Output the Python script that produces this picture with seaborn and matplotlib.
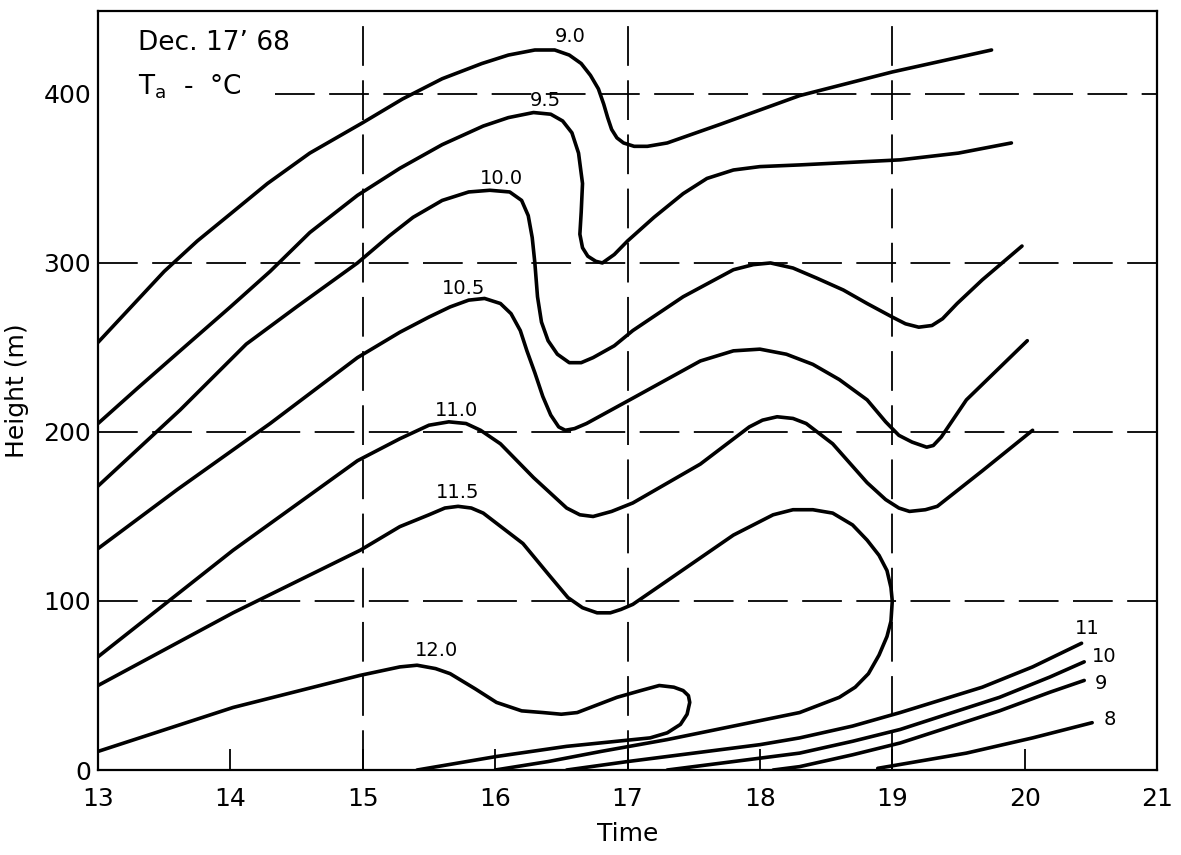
import matplotlib
matplotlib.use("Agg")
import matplotlib.pyplot as plt
import seaborn as sns

# isotherms: time (h) and height (m)
t_90 = [13.0, 13.25, 13.5, 13.75, 14.0, 14.28, 14.6, 15.0, 15.3, 15.6, 15.9, 16.1, 16.3, 16.45, 16.56, 16.65, 16.72, 16.78, 16.82, 16.85, 16.88, 16.92, 16.97, 17.05, 17.15, 17.3, 17.7, 18.3, 19.0, 19.75]
h_90 = [253, 274, 295, 313, 329, 347, 365, 383, 397, 409, 418, 423, 426, 426, 423, 418, 411, 403, 394, 386, 379, 374, 371, 369, 369, 371, 382, 399, 413, 426]

t_95 = [13.0, 13.3, 13.62, 14.0, 14.3, 14.6, 14.96, 15.28, 15.6, 15.91, 16.1, 16.29, 16.42, 16.51, 16.58, 16.63, 16.66, 16.65, 16.64, 16.66, 16.7, 16.76, 16.81, 16.9, 17.0, 17.2, 17.42, 17.6, 17.8, 18.0, 18.3, 19.06, 19.5, 19.9]
h_95 = [205, 226, 248, 274, 295, 318, 340, 356, 370, 381, 386, 389, 388, 384, 377, 365, 347, 330, 317, 309, 304, 301, 300, 305, 313, 327, 341, 350, 355, 357, 358, 361, 365, 371]

t_100 = [13.0, 13.62, 14.12, 14.5, 14.96, 15.2, 15.38, 15.6, 15.8, 15.96, 16.11, 16.2, 16.25, 16.28, 16.3, 16.32, 16.35, 16.4, 16.47, 16.56, 16.65, 16.74, 16.9, 17.04, 17.42, 17.8, 17.95, 18.08, 18.25, 18.43, 18.63, 18.81, 19.0, 19.1, 19.2, 19.3, 19.38, 19.49, 19.68, 19.98]
h_100 = [168, 213, 252, 274, 300, 316, 327, 337, 342, 343, 342, 337, 328, 315, 300, 280, 265, 254, 246, 241, 241, 244, 251, 260, 280, 296, 299, 300, 297, 291, 284, 276, 268, 264, 262, 263, 267, 276, 290, 310]

t_105 = [13.0, 13.6, 14.3, 14.96, 15.28, 15.5, 15.66, 15.8, 15.92, 16.04, 16.12, 16.19, 16.24, 16.3, 16.36, 16.42, 16.48, 16.53, 16.6, 16.69, 17.04, 17.55, 17.8, 18.0, 18.2, 18.4, 18.6, 18.81, 18.95, 19.05, 19.15, 19.26, 19.31, 19.37, 19.56, 20.02]
h_105 = [131, 166, 205, 244, 259, 268, 274, 278, 279, 276, 270, 260, 248, 235, 221, 210, 203, 201, 202, 205, 220, 242, 248, 249, 246, 240, 231, 219, 206, 198, 194, 191, 192, 197, 219, 254]

t_110 = [13.0, 14.02, 14.96, 15.28, 15.5, 15.65, 15.78, 15.89, 16.04, 16.29, 16.54, 16.64, 16.74, 16.88, 17.04, 17.55, 17.92, 18.02, 18.13, 18.25, 18.35, 18.55, 18.81, 18.95, 19.05, 19.13, 19.25, 19.34, 19.68, 20.06]
h_110 = [67, 130, 183, 196, 204, 206, 205, 201, 193, 173, 155, 151, 150, 153, 158, 181, 203, 207, 209, 208, 205, 193, 170, 160, 155, 153, 154, 156, 177, 201]

t_115 = [13.0, 14.02, 14.98, 15.28, 15.5, 15.62, 15.72, 15.82, 15.91, 16.21, 16.4, 16.55, 16.66, 16.77, 16.87, 16.95, 17.04, 17.3, 17.8, 18.1, 18.25, 18.4, 18.55, 18.7, 18.81, 18.9, 18.96, 18.99, 19.0, 18.99, 18.96, 18.9, 18.82, 18.72, 18.6, 18.3, 17.8, 17.3, 16.8, 16.4, 16.0]
h_115 = [50, 93, 130, 144, 151, 155, 156, 155, 152, 134, 116, 102, 96, 93, 93, 95, 98, 112, 139, 151, 154, 154, 152, 145, 136, 127, 118, 108, 100, 88, 79, 68, 57, 49, 43, 34, 26, 18, 11, 5, 0]

t_120 = [13.0, 14.02, 14.98, 15.28, 15.41, 15.55, 15.66, 15.85, 16.01, 16.2, 16.36, 16.5, 16.62, 16.92, 17.1, 17.24, 17.35, 17.42, 17.46, 17.47, 17.45, 17.4, 17.3, 17.17, 16.54, 16.01, 15.41]
h_120 = [11, 37, 56, 61, 62, 60, 57, 48, 40, 35, 34, 33, 34, 43, 47, 50, 49, 47, 44, 40, 33, 27, 22, 19, 14, 8, 0]

t_11 = [16.54, 17.0, 17.5, 18.0, 18.3, 18.7, 19.06, 19.68, 20.06, 20.43]
h_11 = [0, 5, 10, 15, 19, 26, 34, 49, 61, 75]

t_10 = [17.3, 17.8, 18.3, 18.7, 19.06, 19.81, 20.19, 20.45]
h_10 = [0, 5, 10, 17, 24, 43, 55, 64]

t_9 = [18.1, 18.3, 18.7, 19.06, 19.81, 20.19, 20.45]
h_9 = [0, 2, 9, 16, 35, 46, 53]

t_8 = [18.89, 19.56, 20.06, 20.51]
h_8 = [1, 10, 19, 28]

curves = [(t_90, h_90), (t_95, h_95), (t_100, h_100), (t_105, h_105),
          (t_110, h_110), (t_115, h_115), (t_120, h_120),
          (t_11, h_11), (t_10, h_10), (t_9, h_9), (t_8, h_8)]

# contour labels: text, time, height
labels = ["9.0", "9.5", "10.0", "10.5", "11.0", "11.5", "12.0", "11", "10", "9", "8"]
label_t = [16.57, 16.38, 16.05, 15.76, 15.71, 15.72, 15.56, 20.47, 20.6, 20.58, 20.64]
label_h = [434, 396, 350, 285, 213, 164, 71, 84, 67, 51, 30]

x_ticks = [13, 14, 15, 16, 17, 18, 19, 20, 21]
y_ticks = [0, 100, 200, 300, 400]

sns.set_style("white")
plt.rcParams['font.family'] = ['DejaVu Sans']
plt.rcParams['text.color'] = 'black'
plt.rcParams['axes.labelcolor'] = 'black'
plt.rcParams['xtick.color'] = 'black'
plt.rcParams['ytick.color'] = 'black'

fig = plt.figure(figsize=(11.81, 8.55), dpi=100)
ax = fig.add_axes([0.083, 0.0994, 0.8967, 0.8876])

dash = (0, (22, 8))
for h in [100, 200, 300]:
    ax.axhline(h, color='black', lw=1.3, linestyle=dash, zorder=1)
ax.axhline(400, xmin=0.167, color='black', lw=1.3, linestyle=dash, zorder=1)
for t in [15, 17, 19]:
    ax.axvline(t, color='black', lw=1.3, linestyle=dash, zorder=1)

for t, h in curves:
    sns.lineplot(x=t, y=h, sort=False, estimator=None, color='black', lw=2.6, ax=ax, zorder=3)

for txt, t, h in zip(labels, label_t, label_h):
    ax.text(t, h, txt, fontsize=14, ha='center', va='center', zorder=4)

ax.text(13.3, 430, "Dec. 17\u2019 68", fontsize=19, ha='left', va='center')
ax.text(13.3, 404, "T$_{\\rm a}$  -  \u00b0C", fontsize=19, ha='left', va='center')

ax.set_xlim(13, 21)
ax.set_ylim(0, 449)
ax.set_xticks(x_ticks)
ax.set_yticks(y_ticks)
ax.tick_params(axis='x', bottom=True, direction='in', length=15, width=1.3, labelsize=18, pad=12)
ax.tick_params(axis='y', left=True, direction='in', length=0, labelsize=18, pad=5)
for s in ax.spines.values():
    s.set_linewidth(1.6)
    s.set_color('black')

ax.set_xlabel("Time", fontsize=18, labelpad=8)
ax.set_ylabel("Height (m)", fontsize=18, labelpad=10)

plt.savefig("out.png", dpi=100)
